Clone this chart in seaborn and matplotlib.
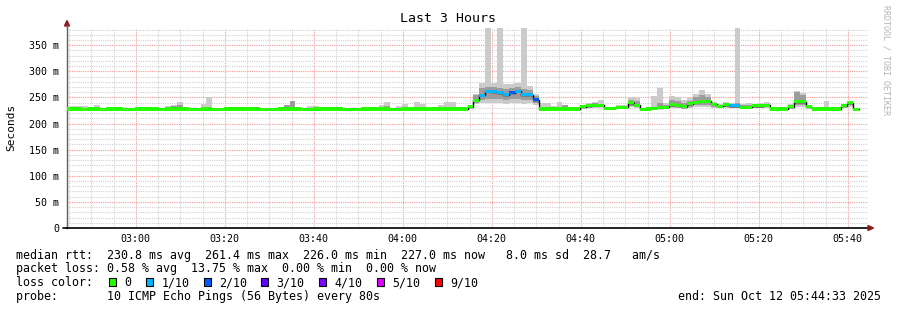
import numpy as np
import pandas as pd
import matplotlib
matplotlib.use("Agg")
import matplotlib.pyplot as plt
import matplotlib.dates as mdates
from matplotlib.patches import Polygon, Rectangle
import seaborn as sns

# ---------------- data (80 s bins, ms) ----------------
bin_start = "2025-10-12 02:43:53"
bin_seconds = 80
view_start = "2025-10-12 02:44:33"
view_end = "2025-10-12 05:44:33"

median_ms = [228,228,228,227,228,228,227,228,228,228,
             227,227,228,228,228,228,227,228,228,228,
             228,227,227,228,228,227,227,228,228,228,
             228,228,228,227,227,227,228,228,228,228,
             227,227,228,228,228,228,228,227,227,227,
             228,228,228,228,228,227,227,228,228,228,
             228,228,228,228,228,228,228,228,232,245,
             254,262,261,259,255,259,262,255,255,246,
             228,228,228,228,228,228,228,232,234,235,
             235,229,229,231,231,240,235,227,228,229,
             230,231,236,234,232,238,241,243,243,237,
             233,236,234,234,231,231,234,234,235,228,
             228,228,232,242,242,232,228,228,228,228,
             228,234,240,227]

loss_count = [0]*70 + [1,1,1,1,1,2,1,1,1,2] + [0]*32 + [1,1] + [0]*20

ping_max = [232,233,234,233,230,236,229,229,231,231,
            228,229,229,229,232,229,229,234,235,242,
            229,228,229,238,250,229,229,229,231,231,
            232,230,232,229,229,229,230,235,243,230,
            229,234,234,229,231,229,230,228,228,229,
            229,229,230,236,242,229,233,238,231,241,
            238,229,229,236,241,241,230,229,236,256,
            277,384,278,384,276,276,277,384,272,256,
            240,240,233,242,236,229,229,236,240,242,
            246,230,231,235,236,251,249,228,230,252,
            269,239,253,251,246,249,257,264,256,241,
            238,241,240,384,238,239,237,239,242,229,
            229,229,238,262,258,235,229,229,244,231,
            229,238,244,230]

ping_min = [227,227,227,226,227,227,226,227,227,227,
            226,226,227,227,227,227,226,227,227,227,
            227,226,226,227,227,226,226,227,227,227,
            227,227,227,226,226,226,227,227,227,227,
            226,226,227,227,227,227,227,226,226,226,
            227,227,227,227,227,226,226,227,227,227,
            227,227,227,227,227,227,227,227,228,237,
            240,240,240,239,238,240,240,238,239,236,
            227,227,227,227,227,227,227,228,229,229,
            229,228,228,228,228,232,229,226,227,227,
            227,228,229,229,228,230,232,232,232,230,
            229,229,229,229,228,228,229,229,229,227,
            227,227,228,232,232,229,227,227,227,227,
            227,229,232,226]

ping_q_lo = [228,228,227,227,228,228,227,228,228,228,
             227,227,228,228,228,228,227,228,228,228,
             228,227,227,228,228,227,227,228,228,228,
             228,228,228,227,227,227,228,228,229,228,
             227,227,228,228,228,228,228,227,227,227,
             228,228,228,228,228,227,227,228,228,228,
             228,228,228,228,228,228,228,228,229,240,
             246,248,248,247,245,248,248,246,246,240,
             228,228,228,228,228,228,228,229,230,231,
             231,229,229,229,229,234,231,227,228,229,
             229,229,231,231,229,232,235,236,235,232,
             230,231,230,230,229,229,230,230,231,228,
             228,228,229,236,236,229,228,228,228,228,
             228,231,236,227]

ping_q_hi = [228,228,232,227,228,228,227,228,228,228,
             227,227,228,228,228,228,227,228,234,236,
             228,227,227,228,228,227,227,228,228,228,
             228,228,228,227,227,227,228,235,243,228,
             227,227,228,228,228,228,228,227,227,227,
             228,228,228,228,234,227,227,228,228,228,
             228,228,228,228,228,228,228,228,235,254,
             269,270,270,268,266,268,270,266,265,252,
             228,228,228,228,236,228,228,232,238,240,
             238,229,229,233,233,246,243,227,228,229,
             240,236,245,244,240,244,250,255,250,239,
             236,238,238,240,235,235,236,236,238,228,
             228,228,235,260,255,234,228,228,228,228,
             228,236,243,227]

loss_labels = ["0", "1/10", "2/10", "3/10", "4/10", "5/10", "9/10"]
loss_colors = ["#26ff00", "#00b8ff", "#0059ff", "#5e00ff", "#7e00ff", "#dd00ff", "#ff0000"]
loss_color_by_count = {0: "#26ff00", 1: "#00b8ff", 2: "#0059ff", 3: "#5e00ff",
                       4: "#7e00ff", 5: "#dd00ff", 9: "#ff0000"}

y_ticks = [0, 50, 100, 150, 200, 250, 300, 350]
y_tick_labels = ["0", "50 m", "100 m", "150 m", "200 m", "250 m", "300 m", "350 m"]

title = "Last 3 Hours"
y_label = "Seconds"
stat_lines = [
    "median rtt:  230.8 ms avg  261.4 ms max  226.0 ms min  227.0 ms now   8.0 ms sd  28.7   am/s",
    "packet loss: 0.58 % avg  13.75 % max  0.00 % min  0.00 % now",
    "loss color:",
    "probe:       10 ICMP Echo Pings (56 Bytes) every 80s",
]
end_text = "end: Sun Oct 12 05:44:33 2025"
side_text = "RRDTOOL / TOBI OETIKER"

# ---------------- figure ----------------
sns.set_style("white")
plt.rcParams["font.family"] = ["DejaVu Sans Mono", "DejaVu Sans"]

W, H = 897, 310
fig = plt.figure(figsize=(W / 100, H / 100), dpi=100)
ax_l, ax_r, ax_t, ax_b = 67, 868, 27.5, 228
ax = fig.add_axes([ax_l / W, 1 - ax_b / H, (ax_r - ax_l) / W, (ax_b - ax_t) / H])

n = len(median_ms)
edges = pd.Timestamp(bin_start) + pd.to_timedelta(np.arange(n + 1) * bin_seconds, unit="s")
xnum = mdates.date2num(edges.to_pydatetime())
left = xnum[:-1]
width = bin_seconds / 86400.0

med = np.array(median_ms, float)
pmin = np.array(ping_min, float)
pmax = np.array(ping_max, float)
qlo = np.array(ping_q_lo, float)
qhi = np.array(ping_q_hi, float)

# smoke
ax.bar(left, pmax - pmin, bottom=pmin, width=width, align="edge",
       color="#cbcbcb", linewidth=0, zorder=2)
ax.bar(left, qhi - qlo, bottom=qlo, width=width, align="edge",
       color="#9c9c9c", linewidth=0, zorder=3)

# black median step line
df = pd.DataFrame({"t": xnum, "m": np.append(med, med[-1])})
sns.lineplot(data=df, x="t", y="m", drawstyle="steps-post", color="#000000",
             linewidth=1.0, estimator=None, sort=False, ax=ax, zorder=4)

# coloured median band (loss)
band = 6.0
cols = [loss_color_by_count[c] for c in loss_count]
ax.bar(left, np.full(n, band), bottom=med - band / 2, width=width, align="edge",
       color=cols, linewidth=0, zorder=5)

# axes range
ax.set_xlim(mdates.date2num(pd.Timestamp(view_start).to_pydatetime()),
            mdates.date2num(pd.Timestamp(view_end).to_pydatetime()))
ax.set_ylim(0, 384)

# grid
ax.xaxis.set_major_locator(mdates.MinuteLocator(byminute=[0, 20, 40]))
ax.xaxis.set_minor_locator(mdates.MinuteLocator(byminute=range(0, 60, 5)))
ax.xaxis.set_major_formatter(mdates.DateFormatter("%H:%M"))
ax.set_yticks(y_ticks)
ax.set_yticklabels(y_tick_labels)
ax.set_yticks(np.arange(0, 385, 10), minor=True)
ax.grid(which="minor", color="#d2d2d2", linestyle=(0, (1, 1)), linewidth=0.8, zorder=0)
ax.grid(which="major", color="#f09a9a", linestyle=(0, (1, 1)), linewidth=0.8, zorder=1)
ax.set_axisbelow(True)

ax.tick_params(axis="both", which="both", length=0, labelsize=7.2, colors="#000000")
ax.tick_params(axis="x", pad=4)
ax.tick_params(axis="y", pad=5.5)
ax.set_xlabel("")
ax.set_ylabel("")

for s in ["top", "right"]:
    ax.spines[s].set_visible(False)
ax.spines["left"].set_color("#606060")
ax.spines["left"].set_linewidth(1.0)
ax.spines["bottom"].set_color("#000000")
ax.spines["bottom"].set_linewidth(1.2)

def fx(px):
    return px / W

def fy(py):
    return 1 - py / H

# axis arrows
fig.add_artist(Polygon([(fx(64.5), fy(26)), (fx(69.5), fy(26)), (fx(67), fy(20.5))],
                       closed=True, transform=fig.transFigure, color="#8b1c1c"))
fig.add_artist(plt.Line2D([fx(67), fx(67)], [fy(28), fy(25)], transform=fig.transFigure,
                          color="#606060", lw=1.0))
fig.add_artist(Polygon([(fx(868), fy(225.5)), (fx(868), fy(230.5)), (fx(873.5), fy(228))],
                       closed=True, transform=fig.transFigure, color="#8b1c1c"))
fig.add_artist(plt.Line2D([fx(62.5), fx(67)], [fy(228), fy(228)], transform=fig.transFigure,
                          color="#000000", lw=1.2))

# texts
fig.text(fx(448), fy(19), title, ha="center", va="center", fontsize=9.5, color="#000000")
fig.text(fx(11), fy(127), y_label, ha="center", va="center", rotation=90, fontsize=8,
         color="#000000")
fig.text(fx(886), fy(5), side_text, ha="center", va="top", rotation=270, fontsize=6,
         color="#b4b4b4")

line_y = [255, 268.5, 282.5, 296.5]
for txt, yy in zip(stat_lines, line_y):
    fig.text(fx(16), fy(yy), txt, ha="left", va="center", fontsize=8.4, color="#000000")
fig.text(fx(881), fy(296.5), end_text, ha="right", va="center", fontsize=8.4, color="#000000")

box_x = [108.5, 146, 203.5, 261, 319, 377, 435]
for bx, lab, colr in zip(box_x, loss_labels, loss_colors):
    fig.add_artist(Rectangle((fx(bx), fy(286)), 7 / W, 8 / H, transform=fig.transFigure,
                             facecolor=colr, edgecolor="#000000", linewidth=0.8))
    fig.text(fx(bx + 15.5), fy(282.5), lab, ha="left", va="center", fontsize=8.4,
             color="#000000")

fig.savefig("out.png", dpi=100)
